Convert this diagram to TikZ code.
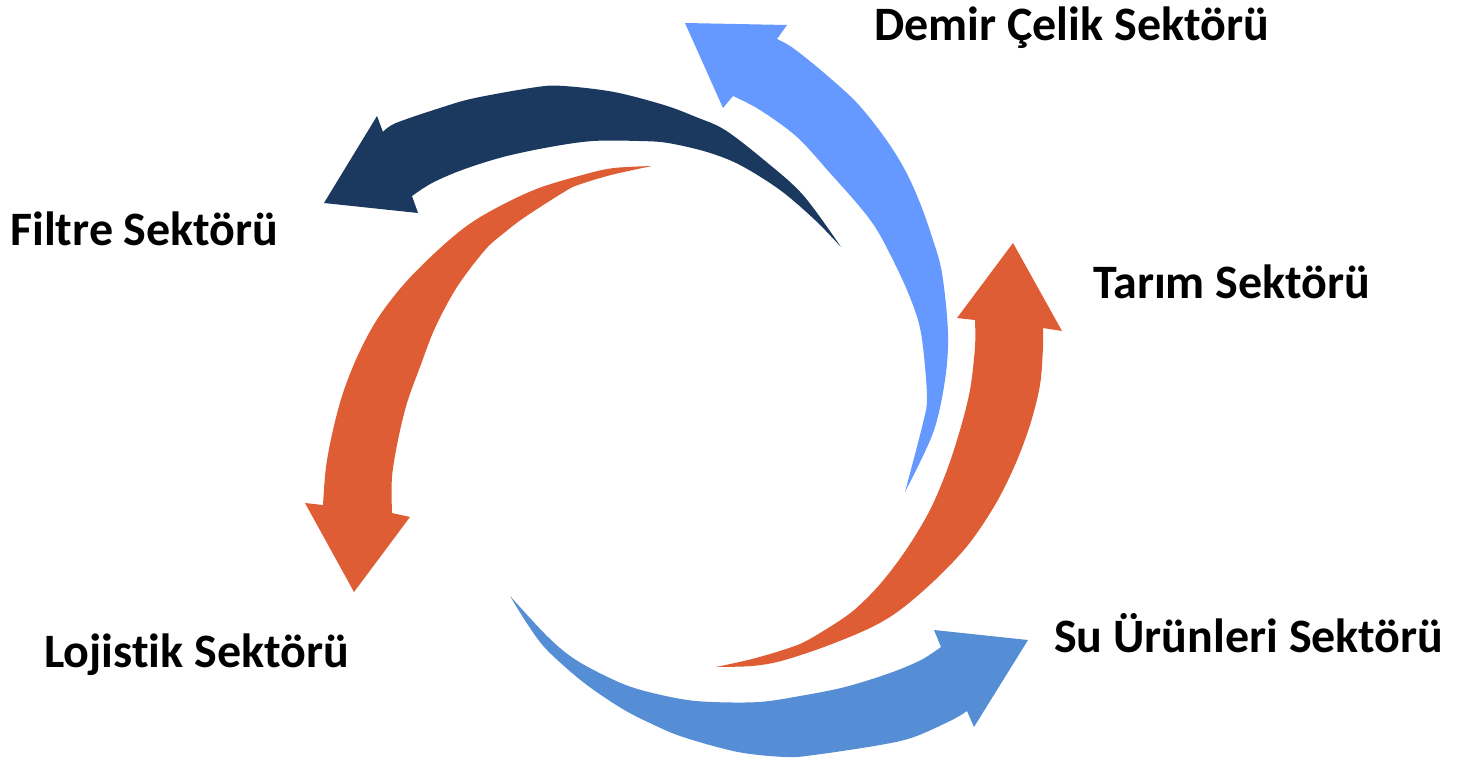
\documentclass[tikz,border=0pt]{standalone}
\usepackage{fontspec}
\setmainfont{Carlito}[Ligatures=NoCommon]
\definecolor{navy}{RGB}{27,57,94}
\definecolor{lblue}{RGB}{102,153,255}
\definecolor{orng}{RGB}{222,93,52}
\definecolor{mblue}{RGB}{85,142,213}
\begin{document}
\begin{tikzpicture}[x=1pt,y=-1pt,
  lbl/.style={anchor=base west,inner sep=0pt,font=\fontsize{48}{52}\selectfont\bfseries},
  sm/.style={smooth,tension=0.55}]
\useasboundingbox (0,0) rectangle (1462,761);
% navy arrow (Filtre)
\fill[navy] plot[sm] coordinates {(841,247) (803,195) (764,160) (725,130) (696,117) (664,105) (614,92) (564,86) (537,87) (475,98) (443,107) (396,123) (383,132)}
  -- (377,116) -- (324,203) -- (418,213) -- (412,196)
  -- plot[sm] coordinates {(412,196) (432,183) (462,170) (503,157) (550,147) (593,141) (639,141) (668,143) (707,152) (740,165) (780,190) (815,220) (841,247)} -- cycle;
% light blue arrow (Demir Celik)
\fill[lblue] plot[sm] coordinates {(905,492) (933,433) (945,380) (948,333) (942,273) (932,237) (920,203) (905,170) (885,138) (857,103) (823,72) (793,48) (777,39)}
  -- (787,25) -- (685,23) -- (723,108) -- (733,96)
  -- plot[sm] coordinates {(733,96) (760,110) (797,137) (830,173) (860,207) (877,230) (893,260) (907,290) (918,320) (923,347) (927,397) (923,423) (905,492)} -- cycle;
% orange arrow (Tarim)
\fill[orng] plot[sm] coordinates {(716,667) (752,659) (786,649) (808,640) (845,617) (866,599) (886,577) (908,547) (930,510) (947,470) (960,430) (970,390) (975,347) (975,320)}
  -- (957,318) -- (1013,243) -- (1062,331) -- (1043,328)
  -- plot[sm] coordinates {(1043,328) (1043,347) (1040,385) (1030,425) (1015,465) (995,505) (968,545) (935,580) (900,610) (870,628) (824,647) (781,661) (752,666) (716,667)} -- cycle;
% medium blue arrow (Su Urunleri)
\fill[mblue] plot[sm] coordinates {(510,596) (528,625) (547,650) (583,682) (621,708) (652,724) (683,737) (738,752) (786,757) (814,755) (880,745) (914,737) (952,720) (967,711)}
  -- (974,727) -- (1028,640) -- (934,630) -- (941,647)
  -- plot[sm] coordinates {(941,647) (921,660) (890,673) (845,687) (800,696) (759,702) (712,702) (681,699) (641,690) (614,680) (576,660) (548,637) (510,596)} -- cycle;
% orange arrow (Lojistik)
\fill[orng] plot[sm] coordinates {(652,166) (614,168) (586,174) (539,188) (500,206) (468,225) (438,250) (405,283) (378,318) (358,355) (343,393) (333,430) (326,467) (323,505)}
  -- (305,503) -- (354,592) -- (410,517) -- (392,513)
  -- plot[sm] coordinates {(392,513) (392,477) (398,440) (407,403) (420,367) (435,328) (457,287) (485,250) (504,233) (525,217) (564,192) (578,185) (611,175) (652,166)} -- cycle;
% labels
\node[lbl] (demir) at (874,40) {Demir Çelik Sektörü};
\node[lbl] (filtre) at (10,245) {Filtre Sektörü};
\node[lbl] (tarim) at (1093,298) {Tarım Sektörü};
\node[lbl] (lojistik) at (44,667) {Lojistik Sektörü};
\node[lbl] (su) at (1054,652) {Su Ürünleri Sektörü};
\end{tikzpicture}
\end{document}
